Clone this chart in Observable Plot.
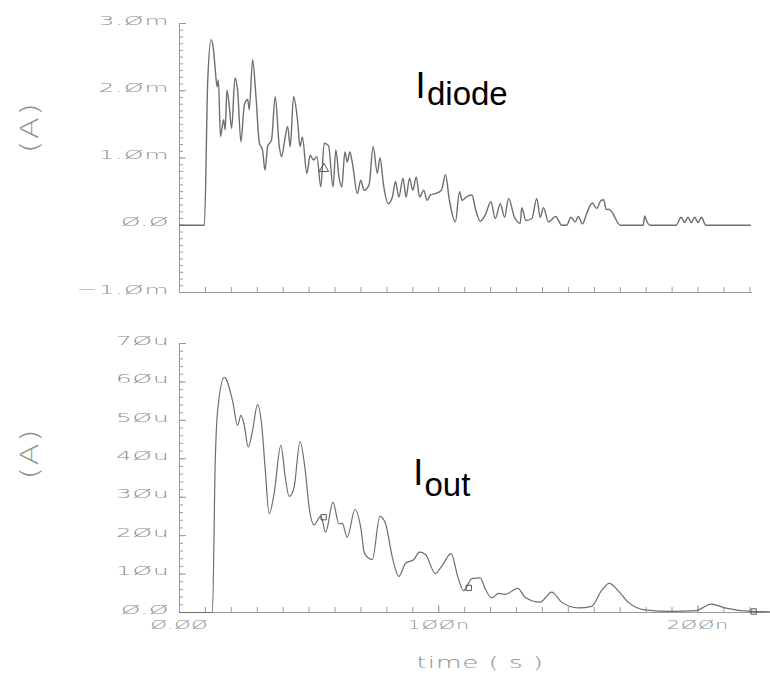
<!DOCTYPE html>
<html><head><meta charset="utf-8">
<script src="https://cdn.jsdelivr.net/npm/d3@7"></script>
<script src="https://cdn.jsdelivr.net/npm/@observablehq/plot@0.6"></script>
<style>
body{margin:0;background:#fff;}
#wrap{position:relative;width:770px;height:676px;overflow:hidden;background:#fff;}
#top,#bot{position:absolute;left:0;}
#top{top:0px;} #bot{top:310px;}
</style></head><body><div id="wrap"><div id="top"></div><div id="bot"></div></div>
<script>
// ---- Data: I_diode (time in ns, current in mA)
const diodeT = [0,9.6,10.9,12.2,13.1,13.7,14.5,15.0,15.8,17.0,17.6,18.3,19.2,20.1,21.4,22.4,23.7,25.0,26.3,26.9,28.2,29.5,30.8,32.0,33.0,34.0,35.5,36.9,38.5,39.4,40.4,41.7,42.7,44.0,45.5,46.5,47.4,49.1,50.4,51.7,53.0,54.5,55.8,57.5,59.2,60.3,61.5,62.6,63.8,64.7,65.7,66.7,68.6,69.9,71.2,73.1,74.7,76.3,77.3,78.8,80.5,82.1,83.3,84.6,86.2,87.4,88.7,90.0,91.3,92.6,94.2,95.5,96.8,98.7,101.0,102.6,104.1,106.4,108.0,109.0,110.6,112.8,114.1,116.0,117.9,120.1,121.8,123.7,125.4,126.9,129.2,131.4,132.0,133.6,135.9,137.8,139.1,140.4,142.3,145.1,147.4,149.3,151.0,152.6,153.8,155.4,157.0,159.2,160.9,162.6,163.6,164.6,165.6,166.7,170.0,178.9,179.4,180.2,181.6,191.5,193.5,194.8,196.1,197.4,198.7,200.0,201.3,203.0,220.2];
const diodeI = [0,0,2.16,2.76,2.61,2.36,2.06,2.16,1.32,1.57,1.42,2.01,1.77,1.44,2.19,2.01,1.24,1.79,1.87,1.72,2.46,1.91,1.22,1.12,0.82,1.17,1.27,1.91,1.17,1.02,1.22,1.47,1.17,1.91,1.57,1.17,1.31,0.77,1.04,0.97,1.02,0.57,1.22,1.18,0.57,1.12,0.72,0.57,1.09,0.94,1.09,0.92,0.47,0.67,0.52,0.60,1.17,0.77,1.00,0.57,0.32,0.42,0.65,0.42,0.70,0.42,0.70,0.52,0.72,0.42,0.52,0.37,0.45,0.47,0.52,0.75,0.37,0.05,0.50,0.37,0.42,0.45,0.25,0.06,0.15,0.35,0.10,0.32,0.12,0.40,0.12,0.03,0.26,0.07,0.10,0.40,0.12,0.26,0.05,0.13,0.0,0.0,0.12,0.05,0.13,0.02,0.17,0.33,0.25,0.37,0.38,0.23,0.24,0.20,0,0,0.14,0.06,0,0,0.12,0.04,0.12,0.04,0.12,0.04,0.12,0,0];

// ---- Data: I_out (time in ns, current in uA)
const outT = [0,12.7,13.8,14.7,17.3,20.5,22.4,23.7,25.0,26.5,28.2,30.1,31.8,33.1,34.6,36.5,39.1,40.8,42.3,44.2,46.5,48.5,50.0,51.9,54.5,56.4,59.2,61.5,62.8,64.7,67.7,69.9,71.4,74.4,77.3,79.5,82.1,84.6,87.2,90.4,92.6,94.9,98.7,101.3,104.8,107.4,109.6,112.8,116.0,117.9,120.5,123.1,125.6,130.5,133.3,139.1,143.6,147.4,153.8,159.0,162.8,165.8,169.2,173.1,179.5,189.7,199.4,205.1,210.3,220.5,227.7];
const outI = [0,0,39.5,52.5,61.2,55.0,48.7,51.3,48.7,43.0,47.4,54.1,48.2,37.0,25.7,31.0,43.5,35.2,30.2,32.6,44.5,37.0,27.4,22.8,25.1,20.9,28.7,23.1,23.2,19.6,26.8,22.2,15.3,13.8,25.0,23.1,14.4,9.4,12.8,13.8,15.7,15.1,10.1,12.2,15.3,9.2,5.7,8.8,9.0,6.2,3.8,5.0,4.7,6.3,4.0,2.7,5.3,2.7,1.2,1.6,5.7,7.6,5.7,2.7,0.7,0.3,0.5,2.2,1.2,0.3,0.2];

// ---- Marker symbols drawn on the traces
const topMarkT = [55.7];
const topMarkI = [0.84];
const botMarkT = [55.6, 111.6, 221.5];
const botMarkI = [24.8, 6.4, 0.26];

// ---- Ticks and labels
const topTickValues = [-1, 0, 1, 2, 3];
const topTickLabels = ["−1.Øm", "Ø.Ø", "1.Øm", "2.Øm", "3.Øm"];
const botTickValues = [0, 10, 20, 30, 40, 50, 60, 70];
const botTickLabels = ["Ø.Ø", "1Øu", "2Øu", "3Øu", "4Øu", "5Øu", "6Øu", "7Øu"];
const xTickValues = [0, 100, 200];
const xTickLabels = ["Ø.ØØ", "1ØØn", "2ØØn"];
const yAxisTitle = "(A)";
const xAxisTitle = "time ( s )";
const topMinor = d3.range(-10, 31).map(i => i / 10);
const botMinor = d3.range(0, 36).map(i => i * 2);
const xMinorTop = d3.range(0, 23).map(i => i * 10);
const xMinorBot = d3.range(0, 23).map(i => i * 10);

const diode = diodeT.map((t, i) => ({t, v: diodeI[i]}));
const iout = outT.map((t, i) => ({t, v: outI[i]}));
const topMarks = topMarkT.map((t, i) => ({t, v: topMarkI[i]}));
const botMarks = botMarkT.map((t, i) => ({t, v: botMarkI[i]}));

const AX = "#9a9a9a", TXT = "#8e8e8e", LINE = "#6e6e6e";
const vecFont = {fontFamily: "DejaVu Sans", fontSize: 13, fill: TXT, fontWeight: 300};
const titleFont = {fontFamily: "DejaVu Sans", fontSize: 24, fill: TXT, fontWeight: 300};
const timeFont = {fontFamily: "DejaVu Sans", fontSize: 15, fill: TXT, fontWeight: 300};

// ---- Top panel
const tW = 770, tH = 300, tML = 179, tMR = 18, tMT = 23, tMB = 8;
const tPW = tW - tML - tMR, tPH = tH - tMT - tMB;
const topPlot = Plot.plot({
  width: tW, height: tH,
  marginLeft: tML, marginRight: tMR, marginTop: tMT, marginBottom: tMB,
  x: {domain: [0, 221], axis: null},
  y: {domain: [-1, 3], axis: null},
  style: {background: "white", overflow: "visible"},
  marks: [
    Plot.tickY(topMinor, {y: d => d, insetRight: tPW - 4, stroke: AX}),
    Plot.tickY(topTickValues, {y: d => d, insetRight: tPW - 7, stroke: AX}),
    Plot.tickX(xMinorTop, {x: d => d, insetTop: tPH - 5, stroke: AX}),
    Plot.ruleX([0], {stroke: AX}),
    Plot.ruleY([-1], {stroke: AX}),
    Plot.axisY(topTickValues, {tickSize: 0, tickPadding: 10, dy: -3, label: null,
      tickFormat: d => topTickLabels[topTickValues.indexOf(d)], ...vecFont}),
    Plot.line(diode, {x: "t", y: "v", stroke: LINE, strokeWidth: 1.4, curve: "monotone-x"}),
    Plot.dot(topMarks, {x: "t", y: "v", symbol: "triangle", r: 3.5, stroke: "#555", fill: "none", strokeWidth: 1}),
    Plot.text(["I"], {x: 91.0, y: 1.887, textAnchor: "start", lineAnchor: "bottom",
      fontFamily: "Liberation Sans", fontSize: 36, fill: "black"}),
    Plot.text(["diode"], {x: 95.45, y: 1.782, textAnchor: "start", lineAnchor: "bottom",
      fontFamily: "Liberation Sans", fontSize: 33, fill: "black"}),
    Plot.text([yAxisTitle], {frameAnchor: "left", y: 1.07, dx: -149, rotate: -90, ...titleFont})
  ]
});

// ---- Bottom panel
const bW = 770, bH = 366, bML = 179, bMR = 0, bMT = 33, bMB = 64;
const bPW = bW - bML - bMR, bPH = bH - bMT - bMB;
const botPlot = Plot.plot({
  width: bW, height: bH,
  marginLeft: bML, marginRight: bMR, marginTop: bMT, marginBottom: bMB,
  x: {domain: [0, 228], axis: null},
  y: {domain: [0, 70], axis: null},
  style: {background: "white", overflow: "visible"},
  marks: [
    Plot.tickY(botMinor, {y: d => d, insetRight: bPW - 4, stroke: AX}),
    Plot.tickY(botTickValues, {y: d => d, insetRight: bPW - 7, stroke: AX}),
    Plot.tickX(xMinorBot, {x: d => d, insetTop: bPH - 5, stroke: AX}),
    Plot.tickX(xTickValues, {x: d => d, insetTop: bPH - 7, stroke: AX}),
    Plot.ruleX([0], {stroke: AX}),
    Plot.ruleY([0], {stroke: AX}),
    Plot.axisY(botTickValues, {tickSize: 0, tickPadding: 10, dy: -3, label: null,
      tickFormat: d => botTickLabels[botTickValues.indexOf(d)], ...vecFont}),
    Plot.axisX(xTickValues, {tickSize: 0, tickPadding: 7, label: null,
      tickFormat: d => xTickLabels[xTickValues.indexOf(d)], ...vecFont}),
    Plot.line(iout, {x: "t", y: "v", stroke: LINE, strokeWidth: 1.2, curve: "monotone-x"}),
    Plot.dot(botMarks, {x: "t", y: "v", symbol: "square", r: 3, stroke: "#555", fill: "none", strokeWidth: 1}),
    Plot.text(["I"], {x: 90.2, y: 33.05, textAnchor: "start", lineAnchor: "bottom",
      fontFamily: "Liberation Sans", fontSize: 36, fill: "black"}),
    Plot.text(["out"], {x: 94.5, y: 30.2, textAnchor: "start", lineAnchor: "bottom",
      fontFamily: "Liberation Sans", fontSize: 33, fill: "black"}),
    Plot.text([yAxisTitle], {frameAnchor: "left", y: 34.6, dx: -149, rotate: -90, ...titleFont}),
    Plot.text([xAxisTitle], {frameAnchor: "bottom", x: 116, dy: 51, lineAnchor: "middle", ...timeFont})
  ]
});

// Stretch the vector-font labels horizontally like the waveform viewer's font
const stretch = new Map();
topTickLabels.concat(botTickLabels).forEach(s => stretch.set(s, [1.9, 0.5]));
xTickLabels.forEach(s => stretch.set(s, [1.6, 0.5]));
stretch.set(yAxisTitle, [1.35, 1]);
stretch.set(xAxisTitle, [1.75, 0.5]);
function vectorize(svg) {
  svg.querySelectorAll("text").forEach(t => {
    const s = stretch.get(t.textContent);
    if (!s) return;
    t.setAttribute("letter-spacing", s[1]);
    let tr = t.getAttribute("transform");
    if (tr == null) {
      const x = t.getAttribute("x") || 0, y = t.getAttribute("y") || 0;
      tr = `translate(${x},${y})`;
      t.removeAttribute("x"); t.removeAttribute("y");
    }
    t.setAttribute("transform", tr + ` scale(${s[0]},1)`);
  });
}
vectorize(topPlot);
vectorize(botPlot);

document.getElementById("top").appendChild(topPlot);
document.getElementById("bot").appendChild(botPlot);
</script>
</body></html>
